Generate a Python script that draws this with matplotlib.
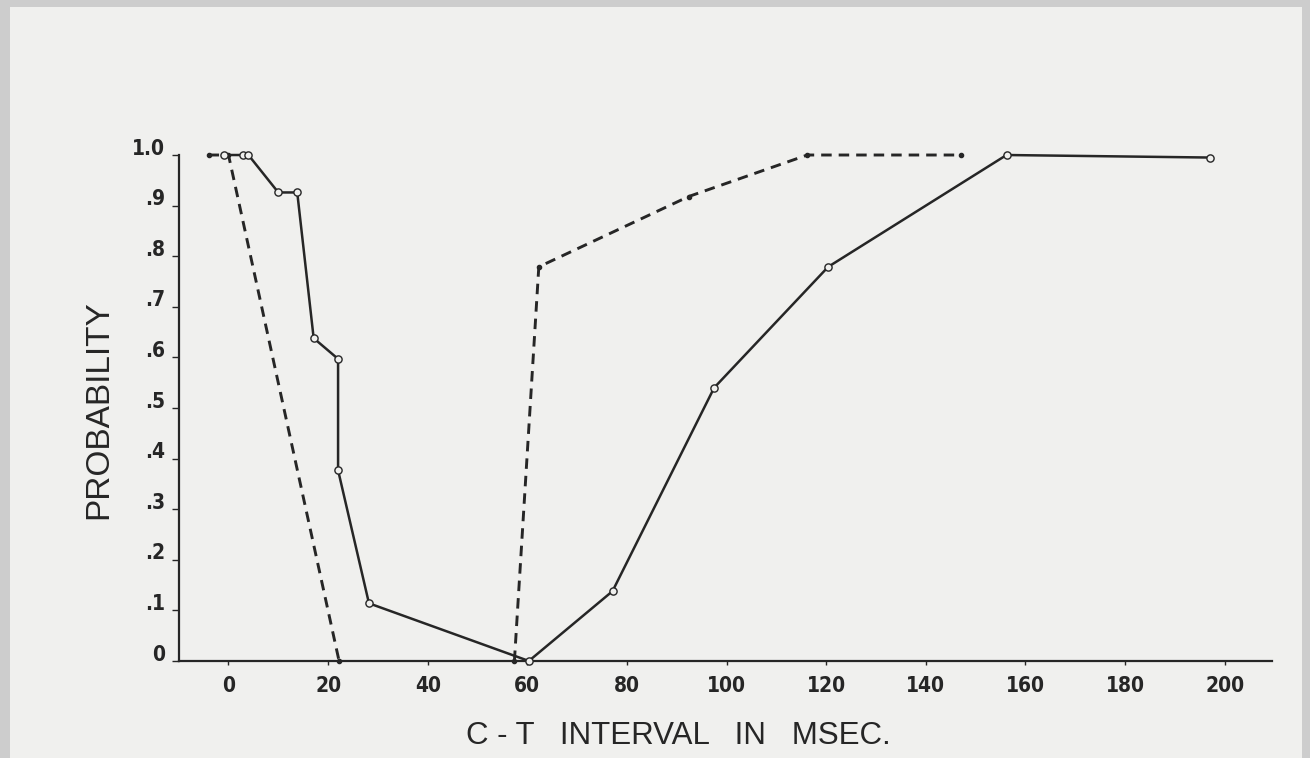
import numpy as np
import matplotlib
matplotlib.use('Agg')
import matplotlib.pyplot as plt
from matplotlib.patches import Rectangle
from matplotlib.transforms import ScaledTranslation

# Solid curve (open circles)
solid_x = [-1, 3, 4, 10, 13.8, 17.1, 22, 22, 28.2, 60.3, 77.1, 97.5, 120.4, 156.2, 197.0]
solid_y = [1.0, 1.0, 1.0, 0.926, 0.926, 0.638, 0.597, 0.377, 0.114, 0.0, 0.138, 0.540, 0.779, 1.0, 0.995]

# Dashed curves (small filled dots)
dash1_x = [-4, 0, 22.2]
dash1_y = [1.0, 1.0, 0.0]
dash2_x = [57.4, 62.3, 92.4, 116.2, 147.1]
dash2_y = [0.0, 0.779, 0.918, 1.0, 1.0]

xticks = [0, 20, 40, 60, 80, 100, 120, 140, 160, 180, 200]
yticks = [0, .1, .2, .3, .4, .5, .6, .7, .8, .9, 1.0]
ytick_labels = ['0', '.1', '.2', '.3', '.4', '.5', '.6', '.7', '.8', '.9', '1.0']

ink = '#262626'
paper = '#f0f0ee'
plain = ['Liberation Sans', 'DejaVu Sans']
tick_font = dict(family='DejaVu Sans', stretch='condensed', weight='bold',
                 size=15, color=ink)

fig = plt.figure(figsize=(13.1, 7.58), dpi=100, facecolor='#cdcdcd')
fig.patches.append(Rectangle((0.008, 0.0), 0.986, 0.991, transform=fig.transFigure,
                             facecolor=paper, edgecolor='none', zorder=-10))

ax = fig.add_axes([0.1364, 0.128, 0.8346, 0.6675])
ax.set_zorder(5)
ax.set_facecolor('none')
ax.set_xlim(-10, 209.5)
ax.set_ylim(0, 1.0)

ax.plot(dash1_x, dash1_y, color=ink, lw=2.1, ls=(0, (3.6, 2.4)),
        marker='o', ms=3, mfc=ink, mec=ink, clip_on=False, zorder=3)
ax.plot(dash2_x, dash2_y, color=ink, lw=2.1, ls=(0, (3.6, 2.4)),
        marker='o', ms=3, mfc=ink, mec=ink, clip_on=False, zorder=3)
ax.plot(solid_x, solid_y, color=ink, lw=1.8, marker='o', ms=5.2,
        mfc=paper, mec=ink, mew=1.0, clip_on=False, zorder=4)

for s in ['top', 'right']:
    ax.spines[s].set_visible(False)
for s in ['left', 'bottom']:
    ax.spines[s].set_color(ink)
    ax.spines[s].set_linewidth(1.6)

ax.set_xticks(xticks)
ax.set_xticklabels([str(v) for v in xticks], **tick_font)
ax.set_yticks(yticks)
ax.set_yticklabels(ytick_labels, **tick_font)
ax.tick_params(axis='x', length=3, width=1, color=ink, pad=8, direction='out')
ax.tick_params(axis='y', length=5, width=1, color=ink, pad=5, direction='out')

# labels sit a little above their ticks in the original
offset = ScaledTranslation(0, 6 / 72, fig.dpi_scale_trans)
for lab in ax.get_yticklabels():
    lab.set_transform(lab.get_transform() + offset)

fig.text(0.5176, 0.029, 'C - T   INTERVAL   IN   MSEC.', ha='center', va='center',
         fontsize=22.5, color=ink, family=plain)
fig.text(0.0756, 0.459, 'PROBABILITY', ha='center', va='center', rotation=90,
         fontsize=24, color=ink, family=plain)

plt.savefig('out.png', dpi=100, facecolor=fig.get_facecolor())
